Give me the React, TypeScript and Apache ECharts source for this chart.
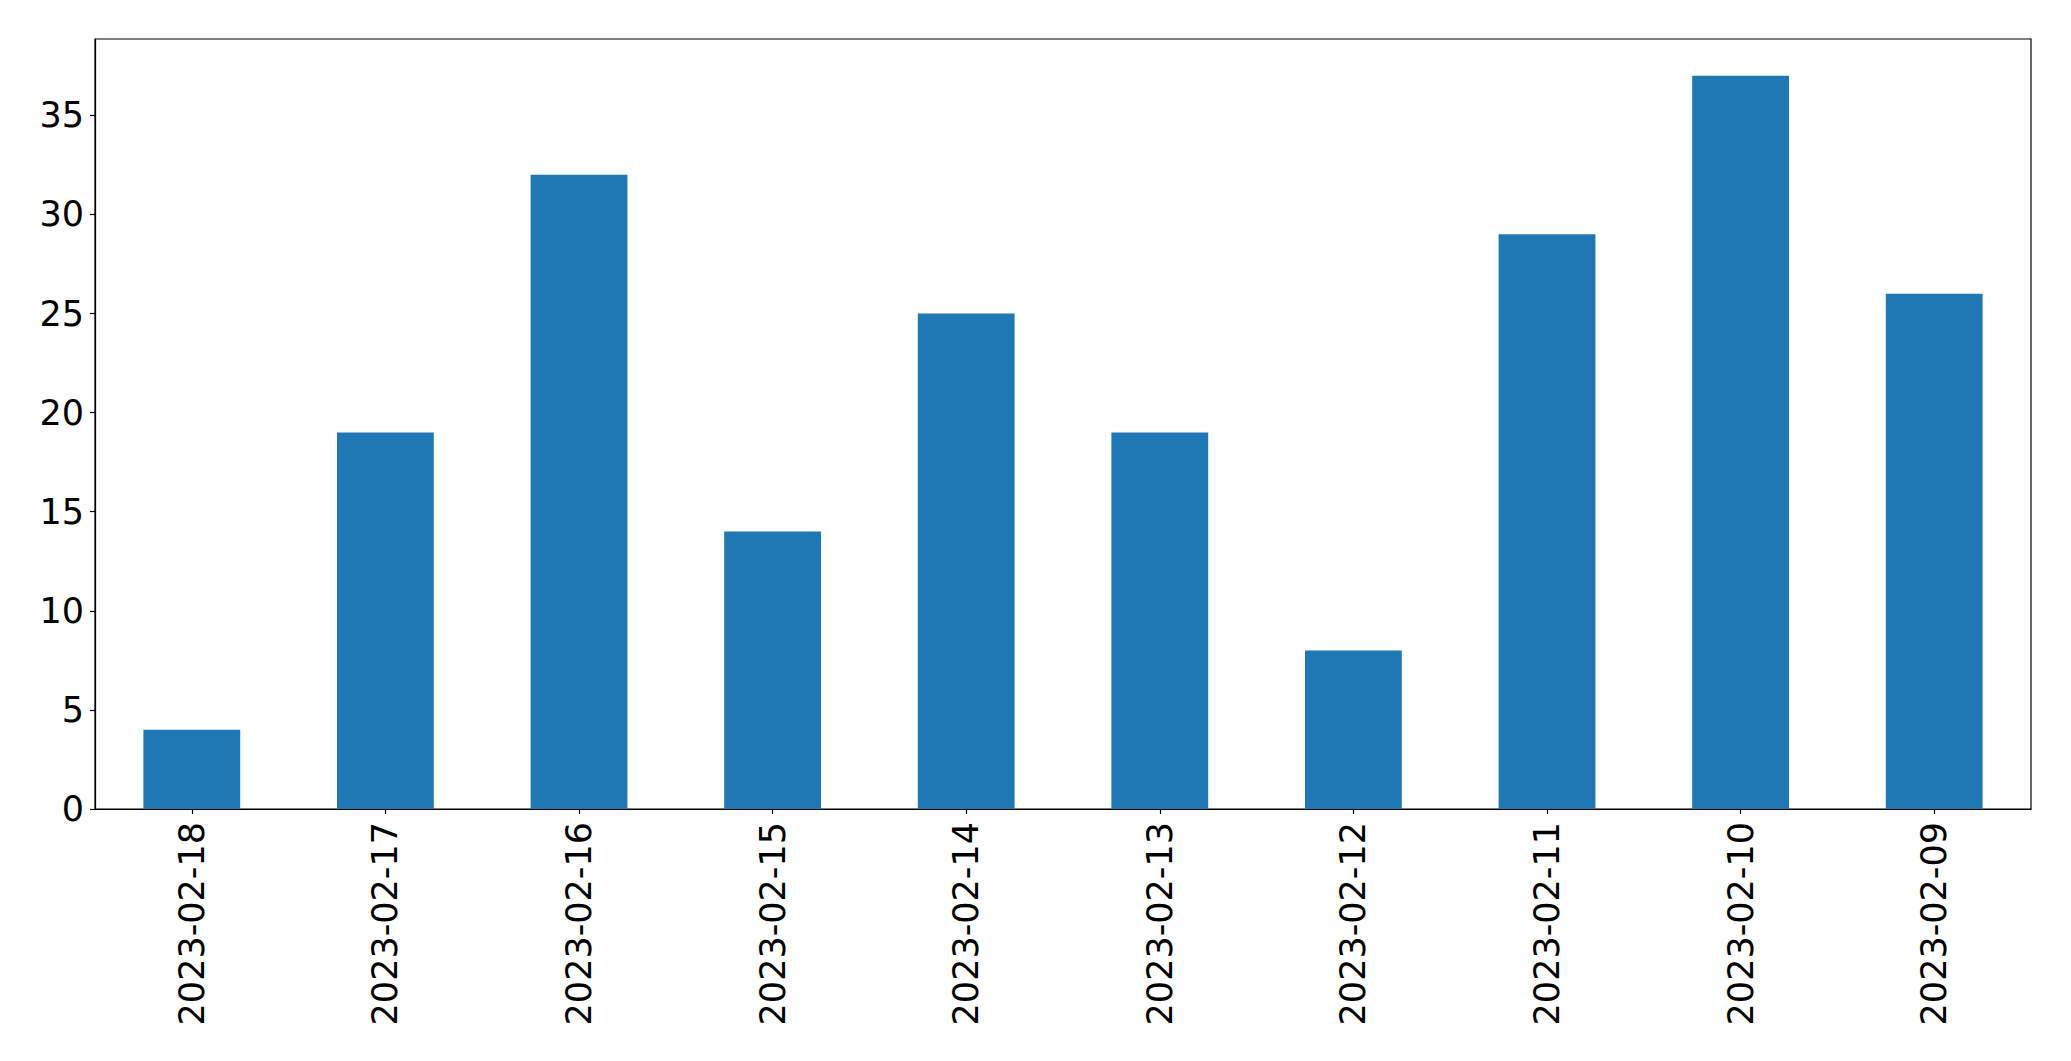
import React, { useEffect, useRef } from "react";
import * as echarts from "echarts";

const categories = [
  "2023-02-18",
  "2023-02-17",
  "2023-02-16",
  "2023-02-15",
  "2023-02-14",
  "2023-02-13",
  "2023-02-12",
  "2023-02-11",
  "2023-02-10",
  "2023-02-09",
];
const values = [4, 19, 32, 14, 25, 19, 8, 29, 37, 26];
const yTicks = [0, 5, 10, 15, 20, 25, 30, 35];

export default function App() {
  const ref = useRef<HTMLDivElement>(null);
  useEffect(() => {
    document.body.style.margin = "0";
    if (!ref.current) return;
    const chart = echarts.init(ref.current, null, { renderer: "svg" });
    const font = "DejaVu Sans";
    chart.setOption({
      animation: false,
      backgroundColor: "#ffffff",
      grid: {
        left: 95,
        right: 40,
        top: 39,
        bottom: 252,
        show: true,
        borderColor: "#000",
        borderWidth: 1.2,
        backgroundColor: "transparent",
      },
      xAxis: {
        type: "category",
        data: categories,
        boundaryGap: true,
        axisLine: { show: true, lineStyle: { color: "#000", width: 1.2 } },
        axisTick: { show: true, alignWithLabel: true, length: 5, lineStyle: { color: "#000", width: 1.2 } },
        axisLabel: {
          rotate: 90,
          fontSize: 35,
          fontFamily: font,
          color: "#000",
          margin: 13,
          interval: 0,
        },
        splitLine: { show: false },
      },
      yAxis: {
        type: "value",
        min: 0,
        max: 38.85,
        axisLine: { show: true, lineStyle: { color: "#000", width: 1.2 } },
        axisTick: { show: true, length: 5, customValues: yTicks, lineStyle: { color: "#000", width: 1.2 } },
        axisLabel: {
          fontSize: 35,
          fontFamily: font,
          color: "#000",
          margin: 11,
          customValues: yTicks,
        },
        splitLine: { show: false },
      },
      series: [
        {
          type: "bar",
          data: values,
          barWidth: "50%",
          itemStyle: { color: "#1f77b4" },
        },
      ],
    });
    return () => chart.dispose();
  }, []);
  return <div ref={ref} style={{ width: 2071, height: 1061 }} />;
}
